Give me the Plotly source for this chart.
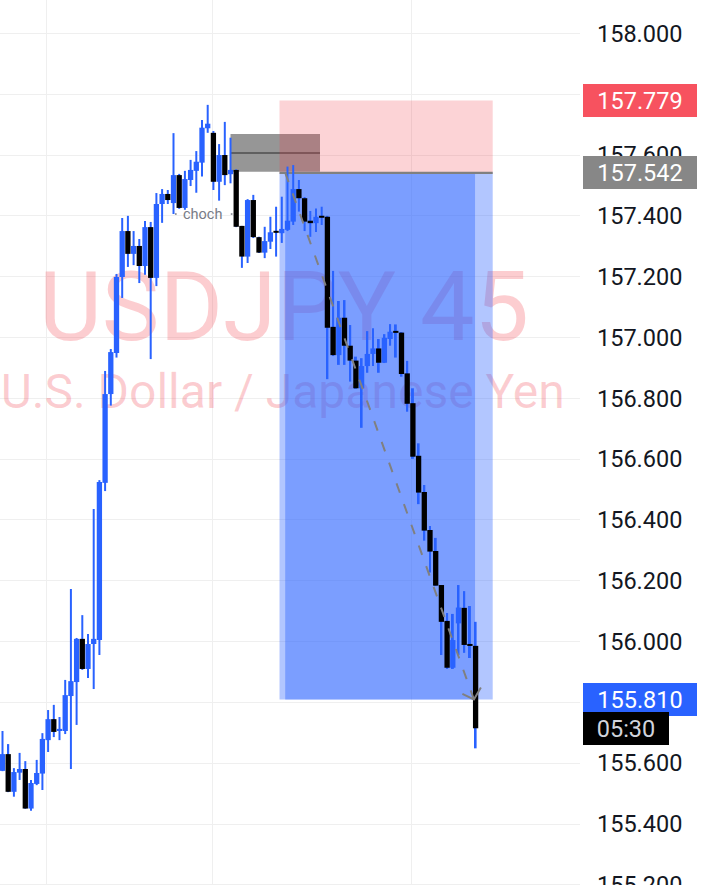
import plotly.graph_objects as go

# ---------------- data (USDJPY, 45-minute candles) ----------------
opens = [155.575, 155.630, 155.506, 155.569, 155.581, 155.451, 155.532, 155.566, 155.676, 155.745,
         155.706, 155.706, 155.821, 155.867, 156.009, 155.910, 155.992, 156.005, 156.522, 156.814,
         156.949, 157.199, 157.350, 157.275, 157.301, 157.235, 157.363, 157.196, 157.439, 157.472,
         157.442, 157.534, 157.426, 157.518, 157.548, 157.575, 157.688, 157.673, 157.512, 157.600,
         157.537, 157.551, 157.367, 157.266, 157.452, 157.330, 157.279, 157.315, 157.350, 157.343,
         157.354, 157.381, 157.488, 157.458, 157.384, 157.376, 157.400, 157.397, 157.035, 156.942,
         157.065, 156.973, 156.924, 156.833, 156.906, 156.946, 156.964, 156.917, 156.995, 157.021,
         157.016, 156.882, 156.784, 156.611, 156.492, 156.367, 156.298, 156.186, 156.068, 155.914,
         156.060, 156.111, 155.992, 155.986]
highs = [155.706, 155.663, 155.584, 155.634, 155.607, 155.545, 155.611, 155.699, 155.775, 155.792,
         155.752, 155.874, 156.173, 156.012, 156.087, 156.025, 156.436, 156.531, 156.890, 156.962,
         157.209, 157.393, 157.400, 157.350, 157.324, 157.383, 157.380, 157.475, 157.488, 157.485,
         157.672, 157.538, 157.548, 157.584, 157.613, 157.715, 157.765, 157.679, 157.636, 157.709,
         157.657, 157.553, 157.367, 157.455, 157.469, 157.331, 157.364, 157.397, 157.430, 157.463,
         157.562, 157.567, 157.518, 157.462, 157.416, 157.424, 157.430, 157.400, 157.219, 157.120,
         157.123, 157.041, 156.937, 156.932, 157.021, 157.030, 156.995, 157.011, 157.044, 157.043,
         157.018, 156.923, 156.833, 156.652, 156.515, 156.380, 156.341, 156.186, 156.094, 156.091,
         156.186, 156.166, 156.117, 156.065]
lows = [155.574, 155.505, 155.490, 155.545, 155.450, 155.444, 155.528, 155.512, 155.637, 155.686,
        155.676, 155.696, 155.581, 155.726, 155.907, 155.880, 155.844, 155.956, 156.495, 156.776,
        156.934, 157.130, 157.232, 157.238, 157.179, 157.206, 156.929, 157.169, 157.377, 157.439,
        157.406, 157.423, 157.420, 157.498, 157.476, 157.529, 157.673, 157.485, 157.450, 157.501,
        157.507, 157.363, 157.229, 157.245, 157.327, 157.278, 157.261, 157.291, 157.266, 157.311,
        157.350, 157.370, 157.414, 157.350, 157.331, 157.347, 157.370, 156.863, 156.939, 156.910,
        156.910, 156.855, 156.831, 156.703, 156.884, 156.906, 156.884, 156.916, 156.973, 156.934,
        156.871, 156.756, 156.601, 156.452, 156.332, 156.227, 156.183, 155.956, 155.910, 155.910,
        155.956, 155.963, 155.946, 155.649]
closes = [155.630, 155.506, 155.571, 155.581, 155.451, 155.535, 155.568, 155.680, 155.745, 155.703,
          155.713, 155.824, 155.870, 156.009, 155.910, 155.992, 156.009, 156.525, 156.814, 156.952,
          157.199, 157.350, 157.275, 157.301, 157.235, 157.363, 157.196, 157.439, 157.472, 157.452,
          157.534, 157.426, 157.521, 157.551, 157.578, 157.690, 157.703, 157.512, 157.600, 157.534,
          157.551, 157.364, 157.266, 157.452, 157.330, 157.279, 157.317, 157.346, 157.345, 157.357,
          157.384, 157.488, 157.458, 157.381, 157.376, 157.397, 157.394, 157.032, 156.942, 157.065,
          156.973, 156.924, 156.833, 156.906, 156.946, 156.964, 156.917, 156.999, 157.019, 157.016,
          156.880, 156.782, 156.608, 156.490, 156.365, 156.296, 156.184, 156.065, 155.914, 156.005,
          156.112, 155.989, 155.986, 155.715]

symbol_title = "USDJPY 45"
symbol_desc = "U.S. Dollar / Japanese Yen"

price_ticks = [155.2, 155.4, 155.6, 155.8, 156.0, 156.2, 156.4, 156.6, 156.8,
               157.0, 157.2, 157.4, 157.6, 157.8, 158.0]
# 155.800 and 157.800 sit fully under the price-label boxes in the reference
price_tick_labels = ["155.200", "155.400", "155.600", "", "156.000", "156.200", "156.400",
                     "156.600", "156.800", "157.000", "157.200", "157.400", "157.600", "",
                     "158.000"]
time_ticks = [7.8, 36.9, 71.8]

# short-position drawing
stop_price = 157.779
entry_price = 157.542
target_price = 155.810
zone_span = [48.6, 86.0]
trade_span = [49.6, 82.9]
trade_path_x = [49.6, 82.7]
trade_path_y = [157.542, 155.810]
countdown = "05:30"

# order block + change of character
ob_span = [40.0, 55.7]
ob_levels = [157.545, 157.669]
choch_level = 157.406
choch_label = "choch"
choch_label_x = 35.0
choch_segments = [[30.25, 30.55], [40.05, 40.35]]

# ---------------- styling ----------------
BLUE = "#2962FF"
BLACK = "#000000"
GRID = "#EFEFEF"
WM = "rgba(242,54,69,0.25)"
FONT = "Roboto"
FIG_W, FIG_H = 704, 900          # plot runs a little past the 885px window (bottom label is cut)
PLOT_W, PLOT_H = 580, 900
X_RANGE = [-0.4386, 101.315]
Y_RANGE = [155.1503, 158.1098]
PX_X = PLOT_W / (X_RANGE[1] - X_RANGE[0])
PX_Y = PLOT_H / (Y_RANGE[1] - Y_RANGE[0])
MIN_BODY = 2.0 / PX_Y

n = len(opens)
idx = list(range(n))

fig = go.Figure()

# watermark on the base subplot (drawn under everything), positions in plot fractions
fig.add_trace(go.Scatter(x=[0.4897], y=[1 - 315.4 / PLOT_H], mode="text", text=[symbol_title],
                         textposition="middle center",
                         textfont=dict(family=FONT, size=97, color=WM),
                         xaxis="x", yaxis="y", hoverinfo="skip"))
fig.add_trace(go.Scatter(x=[0.4875], y=[1 - 395.8 / PLOT_H], mode="text", text=[symbol_desc],
                         textposition="middle center",
                         textfont=dict(family=FONT, size=48, color=WM),
                         xaxis="x", yaxis="y", hoverinfo="skip"))


def zone(x0, x1, y0, y1, color):
    fig.add_trace(go.Bar(x=[(x0 + x1) / 2], y=[y1 - y0], base=[y0], width=[x1 - x0],
                         marker=dict(color=color, line=dict(width=0)),
                         xaxis="x2", yaxis="y2", hoverinfo="skip"))


# order block (grey) with its mid line
zone(ob_span[0], ob_span[1], ob_levels[0], ob_levels[1], "rgb(150,150,150)")
ob_mid = (ob_levels[0] + ob_levels[1]) / 2
zone(ob_span[0], ob_span[1], ob_mid - 1 / PX_Y, ob_mid + 1 / PX_Y, "rgb(95,95,95)")
# stop zone
zone(zone_span[0], zone_span[1], entry_price, stop_price, "rgba(242,54,69,0.22)")
# target zone + in-trade overlay
zone(zone_span[0], zone_span[1], target_price, entry_price, "rgba(41,98,255,0.36)")
zone(trade_span[0], trade_span[1], target_price, entry_price, "rgba(41,98,255,0.40)")
# entry line
zone(zone_span[0], zone_span[1], entry_price - 0.8 / PX_Y, entry_price + 0.8 / PX_Y, "rgb(128,128,128)")

# wicks
fig.add_trace(go.Bar(x=idx, y=[h - l for h, l in zip(highs, lows)], base=lows,
                     width=0.35, marker=dict(color=BLUE, line=dict(width=0)),
                     xaxis="x2", yaxis="y2", hoverinfo="skip"))
# bodies
b_base, b_len, b_col = [], [], []
for o, c in zip(opens, closes):
    lo, hi = min(o, c), max(o, c)
    h = hi - lo
    if h < MIN_BODY:
        lo -= (MIN_BODY - h) / 2
        h = MIN_BODY
    b_base.append(lo)
    b_len.append(h)
    b_col.append(BLUE if c >= o else BLACK)
fig.add_trace(go.Bar(x=idx, y=b_len, base=b_base, width=0.93,
                     marker=dict(color=b_col, line=dict(width=0)),
                     xaxis="x2", yaxis="y2", hoverinfo="skip"))

# dashed trade path with arrow head
fig.add_trace(go.Scatter(x=trade_path_x, y=trade_path_y, mode="lines",
                         line=dict(color="rgb(128,128,128)", width=2, dash="10px,12px"),
                         xaxis="x2", yaxis="y2", hoverinfo="skip"))
tx, ty = trade_path_x[1], trade_path_y[1]
fig.add_trace(go.Scatter(x=[tx - 11.5 / PX_X, tx, tx + 7 / PX_X],
                         y=[ty + 5.5 / PX_Y, ty, ty + 12 / PX_Y], mode="lines",
                         line=dict(color="rgb(128,128,128)", width=2),
                         xaxis="x2", yaxis="y2", hoverinfo="skip"))

# choch dotted line pieces
for s in choch_segments:
    fig.add_trace(go.Scatter(x=s, y=[choch_level, choch_level], mode="lines",
                             line=dict(color="#787B86", width=1.5),
                             xaxis="x2", yaxis="y2", hoverinfo="skip"))

annotations = [
    dict(x=choch_label_x, y=choch_level, xref="x2", yref="y2", text=choch_label, showarrow=False,
         font=dict(family=FONT, size=14.5, color="#787B86"), xanchor="center", yanchor="middle"),
]


def price_label(price, text, bg, fg, w):
    return dict(x=583 / PLOT_W, y=price, xref="paper", yref="y2", text=text, showarrow=False,
                xanchor="left", yanchor="middle", bgcolor=bg, borderpad=2, borderwidth=0,
                width=w, height=29, align="center",
                font=dict(family=FONT, size=23.5, color=fg))


annotations += [
    price_label(stop_price, f"{stop_price:.3f}", "#F7525F", "white", 110),
    price_label(entry_price, f"{entry_price:.3f}", "#878787", "white", 110),
    price_label(target_price, f"{target_price:.3f}", BLUE, "white", 110),
    price_label(closes[-1], countdown, "#000000", "#D1D4DC", 82),
]

fig.update_layout(
    width=FIG_W, height=FIG_H,
    margin=dict(l=0, r=124, t=0, b=0),
    paper_bgcolor="white", plot_bgcolor="white",
    barmode="overlay", showlegend=False,
    font=dict(family=FONT),
    xaxis=dict(range=[0, 1], visible=False, fixedrange=True),
    yaxis=dict(range=[0, 1], visible=False, fixedrange=True),
    xaxis2=dict(overlaying="x", anchor="y2", range=X_RANGE, tickmode="array", tickvals=time_ticks,
                showticklabels=False, showgrid=True, gridcolor=GRID, gridwidth=1,
                zeroline=False, showline=False, ticks=""),
    yaxis2=dict(overlaying="y", anchor="x2", side="right", range=Y_RANGE, tickmode="array",
                tickvals=price_ticks, ticktext=price_tick_labels, showgrid=True, gridcolor=GRID,
                gridwidth=1, zeroline=False, showline=False, ticks="", ticklabelstandoff=16,
                tickfont=dict(family=FONT, size=23.5, color="#131722")),
    annotations=annotations,
)

fig.write_html("out.html", config={"displayModeBar": False},
               post_script="document.body.style.margin='0px';document.body.style.overflow='hidden';")
